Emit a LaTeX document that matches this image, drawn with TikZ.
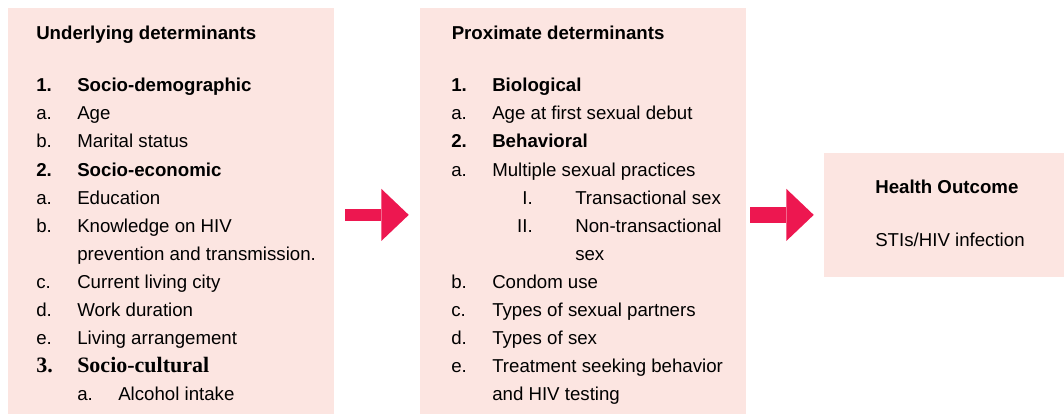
\documentclass[tikz,border=0pt]{standalone}
\usepackage{fontspec}
\setmainfont{Liberation Sans}
\newfontfamily\timesfont{Liberation Serif}
\usepackage{tikz}
\usetikzlibrary{positioning, fit, arrows.meta}
\definecolor{myboxpink}{RGB}{252, 229, 225}
\definecolor{myarrowred}{RGB}{237, 23, 80}

\begin{document}
\begin{tikzpicture}[x = 0.75pt, y = -0.75pt, font = \fontsize{14}{16}\selectfont,
  box/.style = {fill = myboxpink, inner sep = 0pt},
  txt/.style = {anchor = base west, inner sep = 0pt},
  head/.style = {txt, font = \fontsize{14}{16}\selectfont\bfseries},
  roman/.style = {anchor = base east, inner sep = 0pt},
  link/.style = {myarrowred, -{Triangle[length = 20.5pt, width = 39pt, line width = 0pt]}}]
  \useasboundingbox (0, 0) rectangle (1064, 414);

  % boxes
  \node [box, fit = {(8, 8) (334, 414)}] (under) {};
  \node [box, fit = {(420, 8) (746, 414)}] (prox) {};
  \node [box, fit = {(824, 152.5) (1064, 277.3)}] (outcome) {};

  % underlying determinants
  \node [head] (under-title) at (36, 39.3) {Underlying determinants};
  \node [head] (under-1-num) at (36, 91.7) {1.};
  \node [head] (under-1) at (77, 91.7) {Socio-demographic};
  \node [txt] (under-1a-num) at (36, 119.8) {a.};
  \node [txt] (under-1a) at (77, 119.8) {Age};
  \node [txt] (under-1b-num) at (36, 147.9) {b.};
  \node [txt] (under-1b) at (77, 147.9) {Marital status};
  \node [head] (under-2-num) at (36, 176) {2.};
  \node [head] (under-2) at (77, 176) {Socio-economic};
  \node [txt] (under-2a-num) at (36, 204.1) {a.};
  \node [txt] (under-2a) at (77, 204.1) {Education};
  \node [txt] (under-2b-num) at (36, 232.2) {b.};
  \node [txt] (under-2b) at (77, 232.2) {Knowledge on HIV};
  \node [txt] (under-2b-more) at (77, 260.3) {prevention and transmission.};
  \node [txt] (under-2c-num) at (36, 288.4) {c.};
  \node [txt] (under-2c) at (77, 288.4) {Current living city};
  \node [txt] (under-2d-num) at (36, 316.5) {d.};
  \node [txt] (under-2d) at (77, 316.5) {Work duration};
  \node [txt] (under-2e-num) at (36, 344.6) {e.};
  \node [txt] (under-2e) at (77, 344.6) {Living arrangement};
  \node [txt, font = \timesfont\fontsize{16.5}{18}\selectfont\bfseries] (under-3-num) at (36, 372.7) {3.};
  \node [txt, font = \timesfont\fontsize{16.5}{18}\selectfont\bfseries] (under-3) at (77, 372.7) {Socio-cultural};
  \node [txt] (under-3a-num) at (77, 400.8) {a.};
  \node [txt] (under-3a) at (118, 400.8) {Alcohol intake};

  % proximate determinants
  \node [head] (prox-title) at (451.5, 39.3) {Proximate determinants};
  \node [head] (prox-1-num) at (451, 91.7) {1.};
  \node [head] (prox-1) at (492, 91.7) {Biological};
  \node [txt] (prox-1a-num) at (451, 119.8) {a.};
  \node [txt] (prox-1a) at (492, 119.8) {Age at first sexual debut};
  \node [head] (prox-2-num) at (451, 147.9) {2.};
  \node [head] (prox-2) at (492, 147.9) {Behavioral};
  \node [txt] (prox-2a-num) at (451, 176) {a.};
  \node [txt] (prox-2a) at (492, 176) {Multiple sexual practices};
  \node [roman] (prox-2a1-num) at (533, 204.1) {I.};
  \node [txt] (prox-2a1) at (575, 204.1) {Transactional sex};
  \node [roman] (prox-2a2-num) at (533, 232.2) {II.};
  \node [txt] (prox-2a2) at (575, 232.2) {Non-transactional};
  \node [txt] (prox-2a2-more) at (575, 260.3) {sex};
  \node [txt] (prox-2b-num) at (451, 288.4) {b.};
  \node [txt] (prox-2b) at (492, 288.4) {Condom use};
  \node [txt] (prox-2c-num) at (451, 316.5) {c.};
  \node [txt] (prox-2c) at (492, 316.5) {Types of sexual partners};
  \node [txt] (prox-2d-num) at (451, 344.6) {d.};
  \node [txt] (prox-2d) at (492, 344.6) {Types of sex};
  \node [txt] (prox-2e-num) at (451, 372.7) {e.};
  \node [txt] (prox-2e) at (492, 372.7) {Treatment seeking behavior};
  \node [txt] (prox-2e-more) at (492, 400.8) {and HIV testing};

  % health outcome
  \node [head] (outcome-title) at (875, 193) {Health Outcome};
  \node [txt] (outcome-text) at (875, 246) {STIs/HIV infection};

  % edges
  \draw [link, line width = 9pt, shorten <= 8.25pt, shorten >= 8.25pt] (under.east |- outcome.west) -- (prox.west |- outcome.west);
  \draw [link, line width = 12.4pt, shorten <= 3pt, shorten >= 7.5pt] (prox.east |- outcome.west) -- (outcome.west);
\end{tikzpicture}
\end{document}
